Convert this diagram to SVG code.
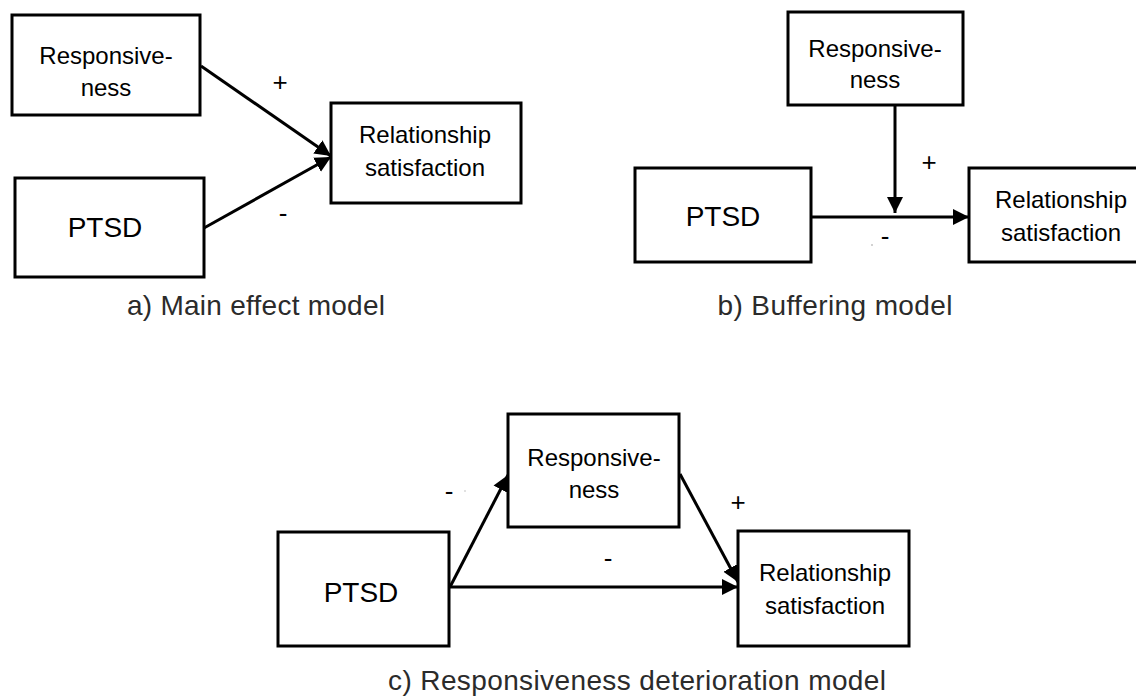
<svg xmlns="http://www.w3.org/2000/svg" width="1136" height="696" viewBox="0 0 1136 696">
<style>
.box{fill:#fff;stroke:#000;stroke-width:3}
.t{font-family:"Liberation Sans",Arial,sans-serif;font-size:24px;fill:#000;text-anchor:middle}
.big{font-size:28px}
.cap{font-family:"Liberation Sans",Arial,sans-serif;font-size:28px;fill:#2b2b2b;text-anchor:middle}
.sign{font-family:"Liberation Sans",Arial,sans-serif;font-size:26px;fill:#000;text-anchor:middle}
.c{fill:none;stroke:#000;stroke-width:3}
</style>
<defs>
<marker id="ah" markerUnits="userSpaceOnUse" markerWidth="18" markerHeight="18" refX="16" refY="8" orient="auto" viewBox="0 0 18 16">
<path d="M0,0 L16,8 L0,16 z" fill="#000"/>
</marker>
</defs>
<rect width="1136" height="696" fill="#fff"/>
<g id="connectors">
<line class="c" x1="201" y1="66" x2="331" y2="156" marker-end="url(#ah)"/>
<line class="c" x1="204" y1="228" x2="331" y2="157" marker-end="url(#ah)"/>
<line class="c" x1="895" y1="105" x2="895" y2="213" marker-end="url(#ah)"/>
<line class="c" x1="811" y1="217" x2="969" y2="217" marker-end="url(#ah)"/>
<line class="c" x1="450" y1="587" x2="508" y2="475" marker-end="url(#ah)"/>
<line class="c" x1="680" y1="474" x2="738" y2="582" marker-end="url(#ah)"/>
<line class="c" x1="450" y1="587" x2="738" y2="587" marker-end="url(#ah)"/>
</g>
<g id="a-resp"><rect class="box" x="12" y="15" width="188" height="100"/><text class="t" x="106" y="64">Responsive-</text><text class="t" x="106" y="96">ness</text></g>
<g id="a-ptsd"><rect class="box" x="15" y="178" width="189" height="99"/><text class="t big" x="105" y="237">PTSD</text></g>
<g id="a-rs"><rect class="box" x="331" y="103" width="190" height="100"/><text class="t" x="425" y="143">Relationship</text><text class="t" x="425" y="176">satisfaction</text></g>
<text class="sign" x="280" y="91">+</text>
<text class="sign" x="283" y="222">-</text>
<text class="cap" x="256" y="315" textLength="258" lengthAdjust="spacing">a) Main effect model</text>
<g id="b-resp"><rect class="box" x="788" y="12" width="175" height="93"/><text class="t" x="875" y="57">Responsive-</text><text class="t" x="875" y="88">ness</text></g>
<g id="b-ptsd"><rect class="box" x="635" y="168" width="176" height="94"/><text class="t big" x="723" y="226">PTSD</text></g>
<g id="b-rs"><rect class="box" x="969" y="168" width="190" height="94"/><text class="t" x="1061" y="208">Relationship</text><text class="t" x="1061" y="241">satisfaction</text></g>
<text class="sign" x="929" y="171">+</text>
<text class="sign" x="885" y="245">-</text>
<circle cx="872" cy="245" r="0.8" fill="#999"/>
<text class="cap" x="835" y="315" textLength="235" lengthAdjust="spacing">b) Buffering model</text>
<g id="c-resp"><rect class="box" x="508" y="414" width="171" height="113"/><text class="t" x="594" y="466">Responsive-</text><text class="t" x="594" y="498">ness</text></g>
<g id="c-ptsd"><rect class="box" x="278" y="532" width="171" height="114"/><text class="t big" x="361" y="602">PTSD</text></g>
<g id="c-rs"><rect class="box" x="738" y="531" width="171" height="115"/><text class="t" x="825" y="581">Relationship</text><text class="t" x="825" y="614">satisfaction</text></g>
<text class="sign" x="449" y="500">-</text>
<circle cx="465" cy="491" r="0.8" fill="#bbb"/>
<text class="sign" x="738" y="511">+</text>
<text class="sign" x="608" y="567">-</text>
<text class="cap" x="637" y="690" textLength="498" lengthAdjust="spacing">c) Responsiveness deterioration model</text>
</svg>
